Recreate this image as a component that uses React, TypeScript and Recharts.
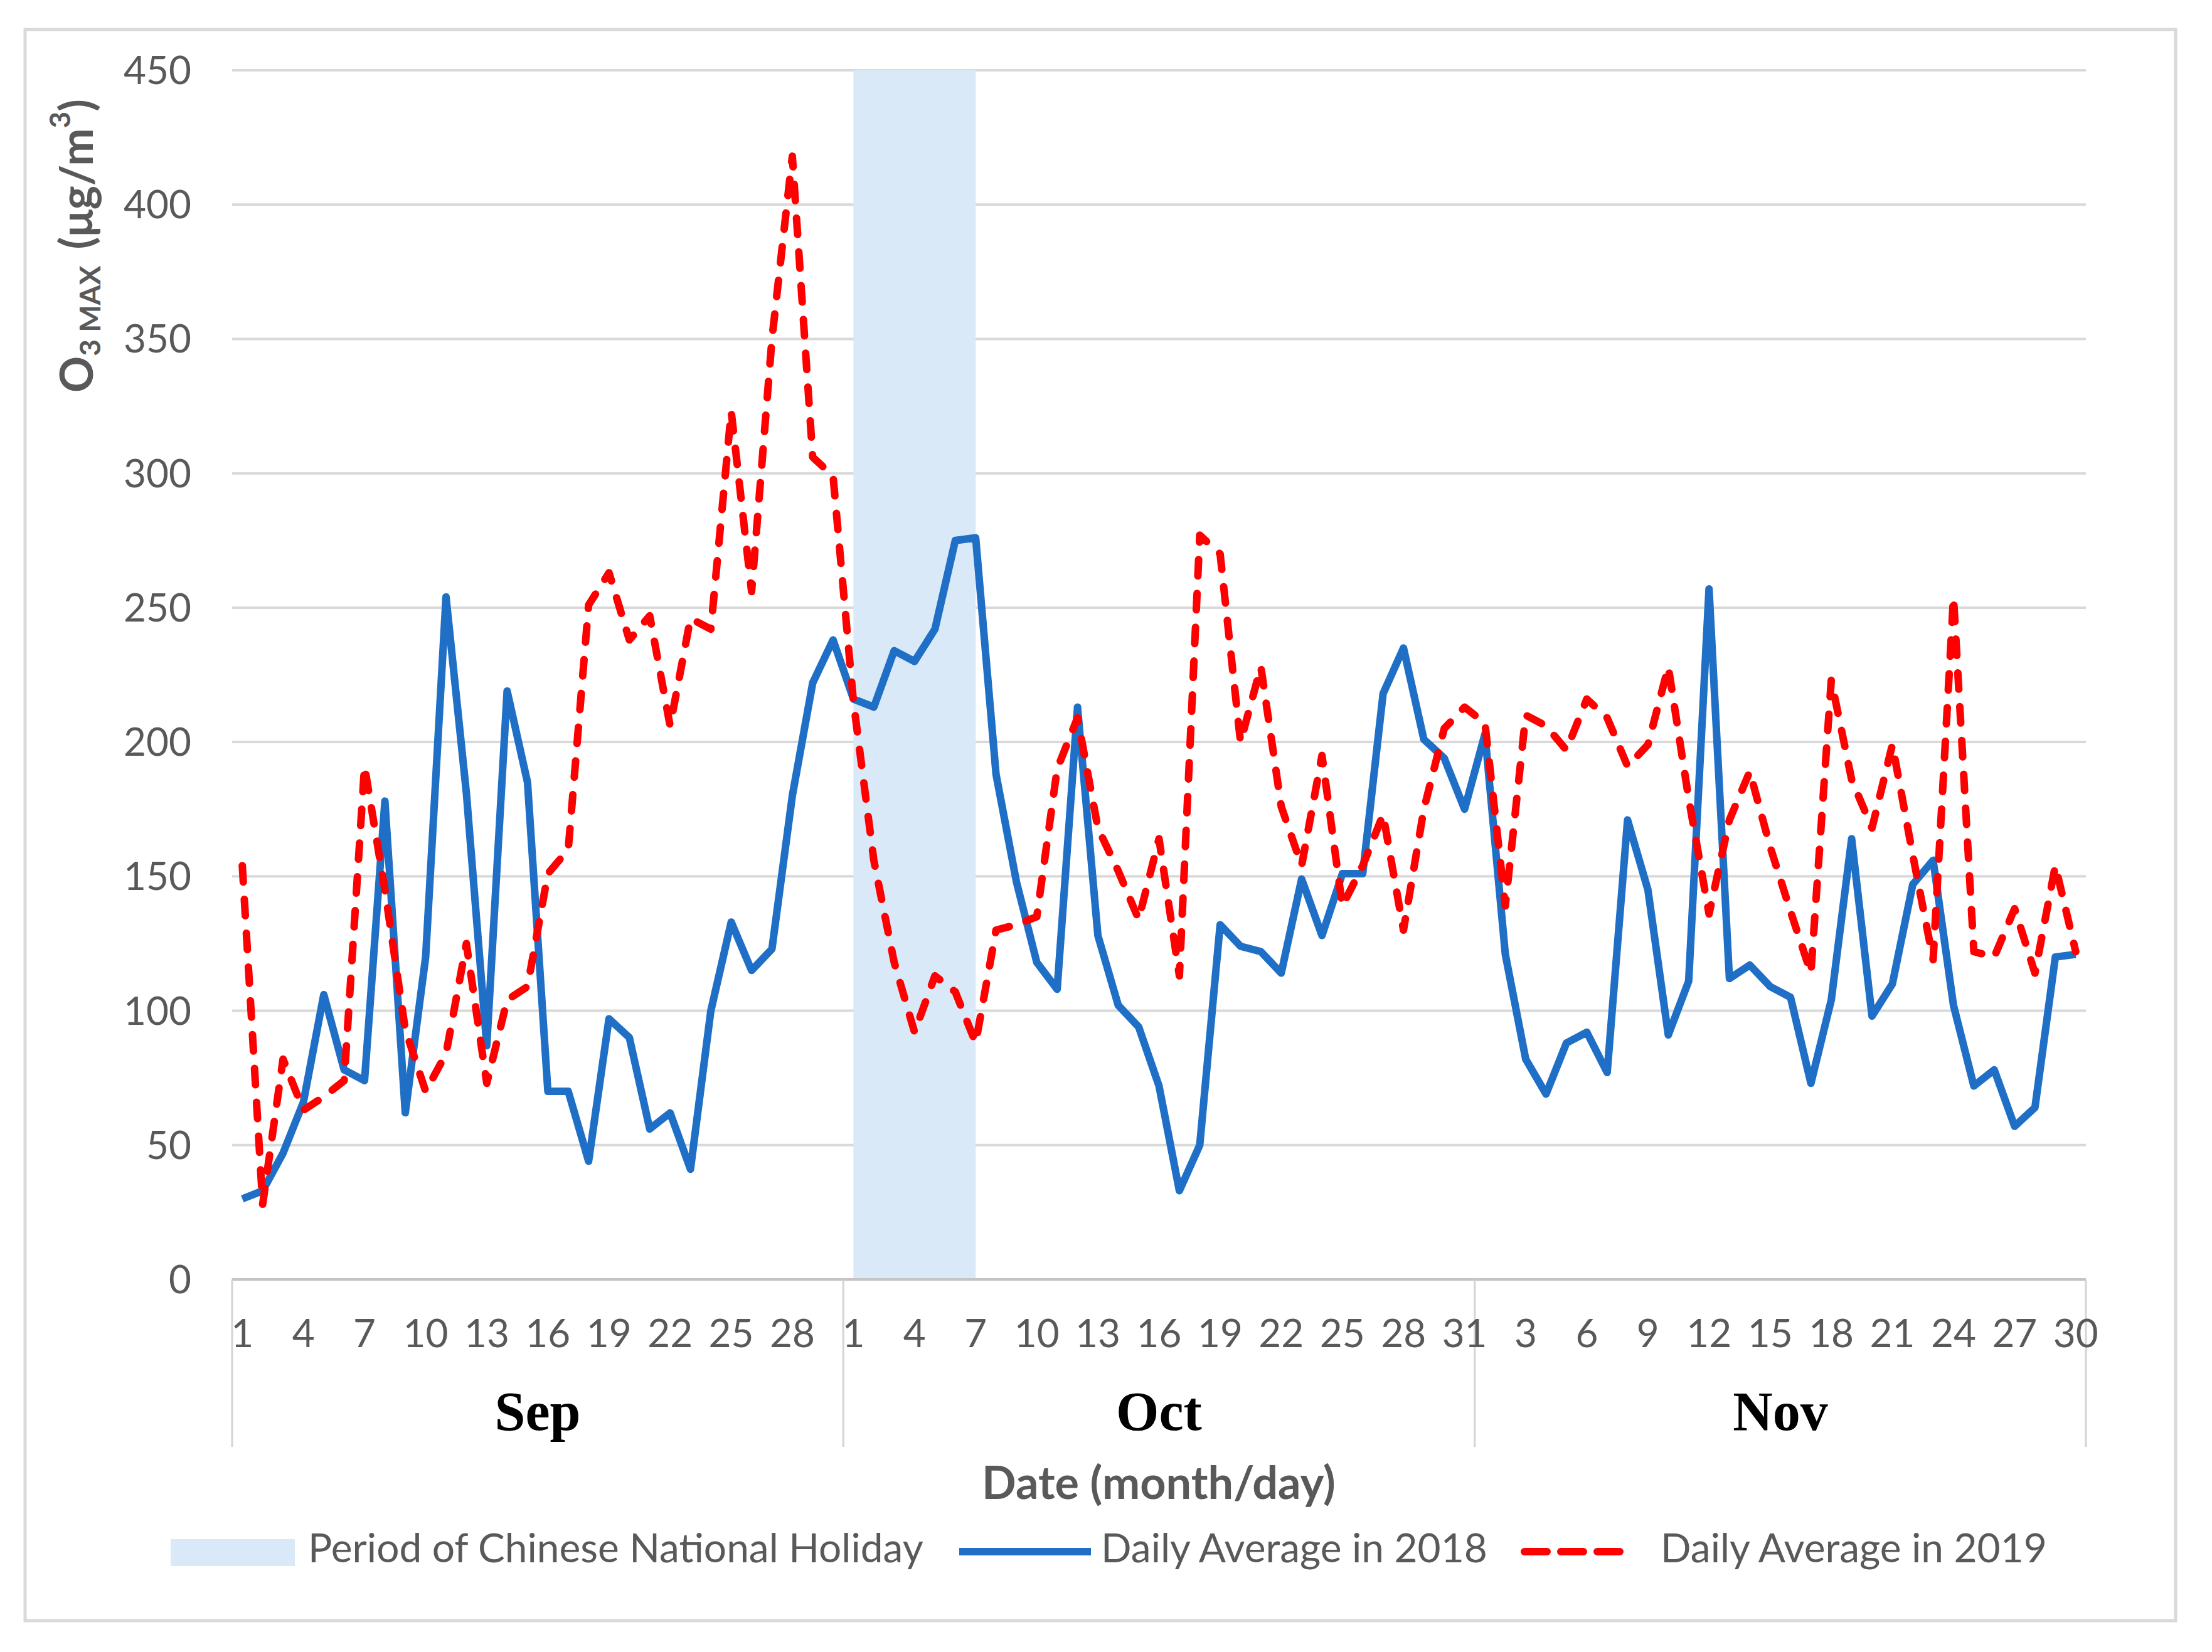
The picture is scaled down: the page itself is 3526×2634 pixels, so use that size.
import React from "react";
import { CartesianGrid, Line, LineChart, ReferenceArea, XAxis, YAxis } from "recharts";

// O3 max, daily average, Sep–Nov; 2018 vs 2019
const months = ["Sep", "Oct", "Nov"];
const monthLengths = [30, 31, 30];

const avg2018 = [
	// Sep
	30, 33, 47, 66, 106, 78, 74, 178, 62, 120, 254, 181, 87, 219, 185, 70, 70, 44, 97, 90, 56, 62, 41, 100, 133, 115, 123,
	180, 222, 238,
	// Oct
	216, 213, 234, 230, 242, 275, 276, 188, 148, 118, 108, 213, 128, 102, 94, 72, 33, 50, 132, 124, 122, 114, 149, 128, 151,
	151, 218, 235, 201, 194, 175,
	// Nov
	203, 121, 82, 69, 88, 92, 77, 171, 145, 91, 111, 257, 112, 117, 109, 105, 73, 104, 164, 98, 110, 147, 156, 102, 72, 78,
	57, 64, 120, 121,
];

const avg2019 = [
	// Sep
	154, 28, 82, 63, 68, 74, 191, 145, 93, 70, 84, 125, 73, 104, 109, 151, 160, 251, 263, 238, 247, 206, 246, 242, 323, 256,
	350, 418, 306, 299,
	// Oct
	215, 156, 118, 92, 113, 107, 88, 130, 132, 135, 190, 209, 168, 152, 134, 164, 113, 277, 270, 200, 228, 176, 154, 195, 139,
	154, 173, 130, 175, 205, 213,
	// Nov
	207, 139, 210, 206, 197, 216, 209, 191, 199, 228, 179, 136, 171, 189, 161, 137, 114, 223, 186, 168, 199, 158, 119, 254,
	122, 120, 138, 114, 154, 122,
];

const holidayStart = { month: "Oct", day: 1 };
const holidayEnd = { month: "Oct", day: 7 };

const yTicks = [0, 50, 100, 150, 200, 250, 300, 350, 400, 450];
const dayLabelStep = 3;

const legendNames = ["Period of Chinese National Holiday", "Daily Average in 2018", "Daily Average in 2019"];

const W = 3526;
const H = 2634;
const FONT = "Lato, 'Open Sans', sans-serif";
const SERIF = "'Liberation Serif', 'Times New Roman', serif";
const BLUE = "#1f6fc6";
const RED = "#ff0000";
const BAND = "#dae9f7";
const TEXT = "#595959";
const LINE_W = 12;
const DASH = "26 28";

interface Row {
	idx: number;
	month: string;
	day: number;
	y2018: number;
	y2019: number;
}

const rows: Row[] = [];
const monthStarts: number[] = [];
months.forEach((m, mi) => {
	monthStarts.push(rows.length);
	for (let d = 1; d <= monthLengths[mi]; d++) {
		const idx = rows.length;
		rows.push({ idx, month: m, day: d, y2018: avg2018[idx], y2019: avg2019[idx] });
	}
});

const lastIdx = rows.length - 1;
const dayTicks = rows.filter((r) => r.idx % dayLabelStep === 0).map((r) => r.idx);
const monthCenters = months.map((_, mi) => monthStarts[mi] + (monthLengths[mi] - 1) / 2);
const monthBounds = [...monthStarts.map((s) => s - 0.5), lastIdx + 0.5];

const findIdx = (p: { month: string; day: number }) =>
	rows.find((r) => r.month === p.month && r.day === p.day)?.idx ?? 0;

// the separator axis only wants its tick lines, no text
const NoLabel = () => <g />;

function Overlay() {
	return (
		<svg width={W} height={H} style={{ position: "absolute", left: 0, top: 0, pointerEvents: "none" }}>
			<rect x={40} y={47} width={3428} height={2537} fill="none" stroke="#d9d9d9" strokeWidth={5} />

			{/* y axis title, rotated */}
			<text
				x={148}
				y={392}
				transform="rotate(-90 148 392)"
				textAnchor="middle"
				fontFamily={FONT}
				fontWeight={700}
				fontSize={72}
				fill={TEXT}
			>
				<tspan>O</tspan>
				<tspan fontSize={46} dy={12}>
					3 MAX
				</tspan>
				<tspan fontSize={72} dy={-12} dx={26}>
					(μg/m
				</tspan>
				<tspan fontSize={46} dy={-36}>
					3
				</tspan>
				<tspan fontSize={72} dy={36}>
					)
				</tspan>
			</text>

			<text x={1847} y={2390} textAnchor="middle" fontFamily={FONT} fontWeight={700} fontSize={72} fill={TEXT}>
				Date (month/day)
			</text>

			{/* legend */}
			<rect x={272} y={2454} width={198} height={43} fill={BAND} />
			<text x={491} y={2491} fontFamily={FONT} fontSize={64} fill={TEXT}>
				{legendNames[0]}
			</text>
			<line x1={1529} x2={1739} y1={2474} y2={2474} stroke={BLUE} strokeWidth={LINE_W} />
			<text x={1755} y={2491} fontFamily={FONT} fontSize={64} fill={TEXT}>
				{legendNames[1]}
			</text>
			<line
				x1={2430}
				x2={2601}
				y1={2474}
				y2={2474}
				stroke={RED}
				strokeWidth={LINE_W}
				strokeDasharray="36 22"
				strokeLinecap="round"
			/>
			<text x={2647} y={2491} fontFamily={FONT} fontSize={64} fill={TEXT}>
				{legendNames[2]}
			</text>
		</svg>
	);
}

export default function App() {
	const domain: [number, number] = [-0.5, lastIdx + 0.5];
	return (
		<div style={{ position: "absolute", left: 0, top: 0, width: W, height: H, background: "#fff" }}>
			<LineChart width={W} height={H} data={rows} margin={{ top: 112, right: 201, left: 270, bottom: 253 }}>
				<CartesianGrid xAxisId="days" vertical={false} stroke="#d9d9d9" strokeWidth={4} />
				{/* month separators + base line (stacked first, right under the plot) */}
				<XAxis
					xAxisId="base"
					dataKey="idx"
					type="number"
					domain={domain}
					allowDataOverflow
					ticks={monthBounds}
					interval={0}
					height={1}
					tick={NoLabel}
					tickSize={267}
					tickLine={{ stroke: "#d4d4d4", strokeWidth: 3 }}
					axisLine={{ stroke: "#c4c4c4", strokeWidth: 4 }}
				/>
				<XAxis
					xAxisId="days"
					dataKey="idx"
					type="number"
					domain={domain}
					allowDataOverflow
					ticks={dayTicks}
					interval={0}
					height={140}
					tickFormatter={(i: number) => String(rows[i]?.day ?? "")}
					tick={{ fontFamily: FONT, fontSize: 62, fill: TEXT }}
					tickSize={0}
					tickMargin={63}
					tickLine={false}
					axisLine={false}
				/>
				<XAxis
					xAxisId="months"
					dataKey="idx"
					type="number"
					domain={domain}
					allowDataOverflow
					ticks={monthCenters}
					interval={0}
					height={200}
					tickFormatter={(v: number) => months[monthCenters.indexOf(v)] ?? ""}
					tick={{ fontFamily: SERIF, fontSize: 88, fontWeight: 700, fill: "#000" }}
					tickSize={0}
					tickMargin={37}
					tickLine={false}
					axisLine={false}
				/>
				<YAxis
					domain={[0, 450]}
					ticks={yTicks}
					interval={0}
					width={100}
					tick={{ fontFamily: FONT, fontSize: 62, fill: TEXT }}
					tickSize={0}
					tickMargin={65}
					tickLine={false}
					axisLine={false}
				/>
				<ReferenceArea
					xAxisId="days"
					x1={findIdx(holidayStart)}
					x2={findIdx(holidayEnd)}
					fill={BAND}
					fillOpacity={1}
					stroke="none"
					ifOverflow="hidden"
				/>
				<Line
					xAxisId="days"
					type="linear"
					dataKey="y2018"
					name={legendNames[1]}
					stroke={BLUE}
					strokeWidth={LINE_W}
					strokeLinejoin="round"
					dot={false}
					activeDot={false}
					isAnimationActive={false}
				/>
				<Line
					xAxisId="days"
					type="linear"
					dataKey="y2019"
					name={legendNames[2]}
					stroke={RED}
					strokeWidth={LINE_W}
					strokeDasharray={DASH}
					strokeLinecap="round"
					strokeLinejoin="round"
					dot={false}
					activeDot={false}
					isAnimationActive={false}
				/>
			</LineChart>
			<Overlay />
		</div>
	);
}
